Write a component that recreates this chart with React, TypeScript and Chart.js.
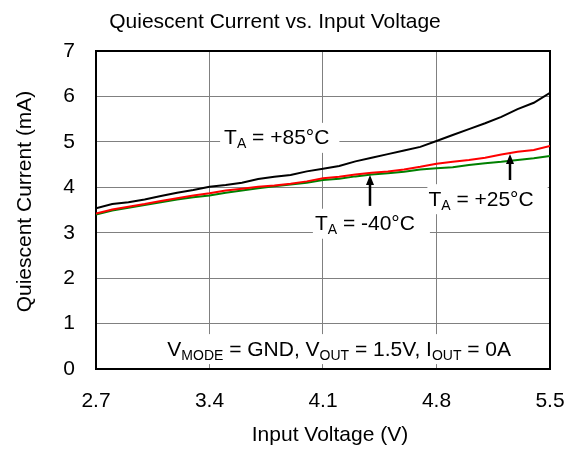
import React, { useEffect, useRef } from "react";
import { Chart, registerables } from "chart.js";

Chart.register(...registerables);

const FONT = '"Liberation Sans", Arial, sans-serif';

const voltage = [2.7, 2.8, 2.9, 3.0, 3.1, 3.2, 3.3, 3.4, 3.5, 3.6, 3.7, 3.8, 3.9, 4.0, 4.1, 4.2, 4.3, 4.4, 4.5, 4.6, 4.7, 4.8, 4.9, 5.0, 5.1, 5.2, 5.3, 5.4, 5.5];
const current85 = [3.54, 3.63, 3.67, 3.73, 3.81, 3.88, 3.94, 4.01, 4.05, 4.10, 4.18, 4.23, 4.27, 4.35, 4.41, 4.47, 4.57, 4.65, 4.73, 4.81, 4.89, 5.02, 5.15, 5.28, 5.41, 5.55, 5.72, 5.86, 6.08];
const current25 = [3.42, 3.51, 3.57, 3.63, 3.70, 3.76, 3.82, 3.87, 3.93, 3.97, 4.01, 4.04, 4.08, 4.13, 4.20, 4.23, 4.28, 4.32, 4.35, 4.39, 4.45, 4.52, 4.56, 4.60, 4.65, 4.72, 4.78, 4.82, 4.91];
const currentM40 = [3.40, 3.49, 3.55, 3.61, 3.67, 3.73, 3.78, 3.82, 3.88, 3.93, 3.98, 4.02, 4.06, 4.10, 4.16, 4.19, 4.24, 4.28, 4.31, 4.34, 4.39, 4.42, 4.44, 4.49, 4.53, 4.56, 4.60, 4.64, 4.69];

const xTicks = [2.7, 3.4, 4.1, 4.8, 5.5];
const yTicks = [0, 1, 2, 3, 4, 5, 6, 7];

const chartTitle = "Quiescent Current vs. Input Voltage";
const xTitle = "Input Voltage (V)";
const yTitle = "Quiescent Current (mA)";

type Part = { t: string; sub?: boolean };
type Label = { x: number; y: number; parts: Part[]; padL: number; padR: number };

const labels: Label[] = [
  { x: 3.49, y: 5.11, parts: [{ t: "T" }, { t: "A", sub: true }, { t: " = +85°C" }], padL: 4, padR: 10 },
  { x: 4.05, y: 3.22, parts: [{ t: "T" }, { t: "A", sub: true }, { t: " = -40°C" }], padL: 2, padR: 15 },
  { x: 4.75, y: 3.76, parts: [{ t: "T" }, { t: "A", sub: true }, { t: " = +25°C" }], padL: 1, padR: 14 },
  {
    x: 3.14,
    y: 0.46,
    parts: [
      { t: "V" }, { t: "MODE", sub: true }, { t: " = GND, V" }, { t: "OUT", sub: true },
      { t: " = 1.5V, I" }, { t: "OUT", sub: true }, { t: " = 0A" },
    ],
    padL: 6,
    padR: 6,
  },
];

const arrows = [
  { x: 4.39, from: 3.59, to: 4.27 },
  { x: 5.253, from: 4.16, to: 4.73 },
];

const TEXT_SIZE = 21;
const SUB_SIZE = 14;

const annotationPlugin = {
  id: "annots",
  beforeDatasetsDraw(chart: any) {
    const { ctx, scales, chartArea } = chart;
    const xs = scales.x;
    const ys = scales.y;
    ctx.save();
    for (const lb of labels) {
      let w = 0;
      for (const p of lb.parts) {
        ctx.font = `${p.sub ? SUB_SIZE : TEXT_SIZE}px ${FONT}`;
        w += ctx.measureText(p.t).width;
      }
      const px = xs.getPixelForValue(lb.x);
      const py = ys.getPixelForValue(lb.y);
      ctx.fillStyle = "#ffffff";
      ctx.fillRect(px - lb.padL, py - 14, w + lb.padL + lb.padR, 30);
    }
    ctx.strokeStyle = "#000000";
    ctx.lineWidth = 2;
    ctx.strokeRect(chartArea.left, chartArea.top, chartArea.right - chartArea.left, chartArea.bottom - chartArea.top);
    ctx.restore();
  },
  afterDatasetsDraw(chart: any) {
    const { ctx, scales } = chart;
    const xs = scales.x;
    const ys = scales.y;
    ctx.save();
    ctx.fillStyle = "#000000";
    ctx.textBaseline = "alphabetic";
    ctx.textAlign = "left";
    for (const lb of labels) {
      let px = xs.getPixelForValue(lb.x);
      const py = ys.getPixelForValue(lb.y);
      const base = py + TEXT_SIZE * 0.36;
      for (const p of lb.parts) {
        ctx.font = `${p.sub ? SUB_SIZE : TEXT_SIZE}px ${FONT}`;
        ctx.fillText(p.t, px, p.sub ? base + 4 : base);
        px += ctx.measureText(p.t).width;
      }
    }
    ctx.strokeStyle = "#000000";
    ctx.lineWidth = 2.5;
    for (const a of arrows) {
      const px = Math.round(xs.getPixelForValue(a.x));
      const y0 = ys.getPixelForValue(a.from);
      const y1 = ys.getPixelForValue(a.to);
      ctx.beginPath();
      ctx.moveTo(px, y0);
      ctx.lineTo(px, y1 + 8);
      ctx.stroke();
      ctx.beginPath();
      ctx.moveTo(px, y1);
      ctx.lineTo(px - 4, y1 + 10);
      ctx.lineTo(px + 4, y1 + 10);
      ctx.closePath();
      ctx.fill();
    }
    ctx.font = `${TEXT_SIZE}px ${FONT}`;
    ctx.textAlign = "center";
    ctx.textBaseline = "middle";
    ctx.fillText(xTitle, 330, 435.5);
    ctx.save();
    ctx.translate(25, 201.5);
    ctx.rotate(-Math.PI / 2);
    ctx.fillText(yTitle, 0, 0);
    ctx.restore();
    ctx.restore();
  },
};

export default function App() {
  const ref = useRef<HTMLCanvasElement>(null);
  useEffect(() => {
    const toPts = (ys: number[]) => voltage.map((v, i) => ({ x: v, y: ys[i] }));
    const chart = new Chart(ref.current as HTMLCanvasElement, {
      type: "line",
      data: {
        datasets: [
          { label: "TA = +85°C", data: toPts(current85), borderColor: "#000000", borderWidth: 2, pointRadius: 0, tension: 0 },
          { label: "TA = +25°C", data: toPts(current25), borderColor: "#ff0000", borderWidth: 2, pointRadius: 0, tension: 0 },
          { label: "TA = -40°C", data: toPts(currentM40), borderColor: "#008000", borderWidth: 2, pointRadius: 0, tension: 0 },
        ],
      },
      options: {
        responsive: false,
        animation: false,
        devicePixelRatio: 1,
        layout: { padding: { left: 0, right: 25, top: 0, bottom: 0 } },
        plugins: {
          legend: { display: false },
          tooltip: { enabled: false },
          title: {
            display: true,
            text: chartTitle,
            color: "#000000",
            font: { family: FONT, size: 21, weight: "normal", lineHeight: 1.2 },
            padding: { top: 10, bottom: 15.8 },
          },
        },
        scales: {
          x: {
            type: "linear",
            min: 2.7,
            max: 5.5,
            afterBuildTicks: (s: any) => {
              s.ticks = xTicks.map((v) => ({ value: v }));
            },
            afterFit: (s: any) => {
              s.height = 82;
              s.paddingLeft = 0;
              s.paddingRight = 0;
            },
            ticks: {
              color: "#000000",
              font: { family: FONT, size: 21 },
              padding: 20,
              maxRotation: 0,
              autoSkip: false,
              callback: (v: any) => Number(v).toFixed(1),
            },
            grid: { color: "#808080", lineWidth: 1, drawTicks: false },
            border: { display: false },
            title: { display: false },
          },
          y: {
            type: "linear",
            min: 0,
            max: 7,
            afterBuildTicks: (s: any) => {
              s.ticks = yTicks.map((v) => ({ value: v }));
            },
            afterFit: (s: any) => {
              s.width = 96;
              s.paddingTop = 0;
              s.paddingBottom = 0;
            },
            ticks: {
              color: "#000000",
              font: { family: FONT, size: 21 },
              padding: 21,
              autoSkip: false,
            },
            grid: { color: "#808080", lineWidth: 1, drawTicks: false },
            border: { display: false },
            title: { display: false },
          },
        },
      },
      plugins: [annotationPlugin],
    });
    return () => chart.destroy();
  }, []);
  return (
    <div style={{ position: "absolute", left: 0, top: 0, width: 575, height: 451, background: "#ffffff" }}>
      <canvas ref={ref} width={575} height={451} style={{ width: 575, height: 451, display: "block" }} />
    </div>
  );
}
